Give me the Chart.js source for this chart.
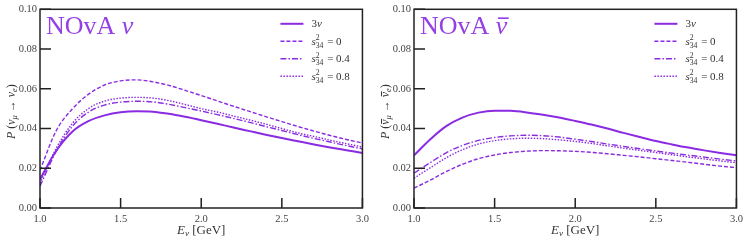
<!DOCTYPE html>
<html>
<head>
  <title>NOvA appearance probability</title>
  <style>
    body { margin: 0; background: #fff; overflow: hidden; }
    .panel { position: absolute; top: 0; width: 374px; height: 242px; }
  </style>
</head>
<body>

<div class="panel" style="left:0"><canvas id="nu" width="374" height="242"></canvas></div>
<div class="panel" style="left:374px"><canvas id="nubar" width="374" height="242"></canvas></div>

<script src="https://cdn.jsdelivr.net/npm/chart.js@4"></script>
<script>

// neutrino energy grid (GeV)
const energies = [1.0, 1.1, 1.2, 1.3, 1.4, 1.5, 1.6, 1.7, 1.8, 1.9, 2.0,
                  2.1, 2.2, 2.3, 2.4, 2.5, 2.6, 2.7, 2.8, 2.9, 3.0];

// NOvA nu
const nuStd = [0.0145, 0.0287, 0.0384, 0.0437, 0.0466, 0.0482, 0.0487, 0.0485, 0.0474, 0.0459, 0.0442,
               0.0424, 0.0405, 0.0387, 0.0369, 0.0352, 0.0336, 0.0320, 0.0305, 0.0291, 0.0277];
const nuS0 = [0.0190, 0.0388, 0.0498, 0.0572, 0.0619, 0.0640, 0.0645, 0.0635, 0.0617, 0.0592, 0.0566,
              0.0539, 0.0512, 0.0486, 0.0460, 0.0435, 0.0410, 0.0387, 0.0365, 0.0345, 0.0327];
const nuS04 = [0.0110, 0.0285, 0.0410, 0.0482, 0.0518, 0.0533, 0.0537, 0.0534, 0.0522, 0.0505, 0.0488,
               0.0470, 0.0451, 0.0431, 0.0410, 0.0390, 0.0369, 0.0350, 0.0332, 0.0314, 0.0298];
const nuS08 = [0.0125, 0.0300, 0.0425, 0.0500, 0.0538, 0.0553, 0.0557, 0.0553, 0.0540, 0.0521, 0.0500,
               0.0483, 0.0463, 0.0443, 0.0422, 0.0400, 0.0378, 0.0360, 0.0341, 0.0324, 0.0307];

// NOvA anti-nu
const nubarStd = [0.0265, 0.0345, 0.0412, 0.0455, 0.0480, 0.0490, 0.0489, 0.0481, 0.0469, 0.0455, 0.0438,
                  0.0420, 0.0400, 0.0378, 0.0357, 0.0337, 0.0320, 0.0304, 0.0290, 0.0277, 0.0265];
const nubarS0 = [0.0100, 0.0140, 0.0183, 0.0220, 0.0248, 0.0267, 0.0279, 0.0286, 0.0289, 0.0288, 0.0285,
                 0.0280, 0.0273, 0.0265, 0.0257, 0.0248, 0.0239, 0.0230, 0.0220, 0.0211, 0.0203];
const nubarS04 = [0.0175, 0.0228, 0.0278, 0.0315, 0.0340, 0.0355, 0.0363, 0.0366, 0.0364, 0.0357, 0.0346,
                  0.0335, 0.0322, 0.0310, 0.0298, 0.0287, 0.0276, 0.0266, 0.0256, 0.0246, 0.0237];
const nubarS08 = [0.0150, 0.0202, 0.0253, 0.0293, 0.0322, 0.0339, 0.0348, 0.0351, 0.0349, 0.0343, 0.0335,
                  0.0325, 0.0313, 0.0301, 0.0290, 0.0279, 0.0268, 0.0257, 0.0247, 0.0237, 0.0228];

const seriesLabels = ['3ν', 's = 0', 's = 0.4', 's = 0.8'];
const xTickValues = [1.0, 1.5, 2.0, 2.5, 3.0];
const yTickValues = [0.00, 0.02, 0.04, 0.06, 0.08, 0.10];

const PURPLE = '#8a2be2';
const SERIF = '"Liberation Serif", "DejaVu Serif", serif';

function font(size, italic) {
  return (italic ? 'italic ' : '') + size + 'px ' + SERIF;
}

// draws a list of text parts with sub/superscripts and overbars
function drawRich(ctx, parts, x, y, size, align, color) {
  const small = size * 0.7;
  const widths = parts.map(p => {
    if (p.stack) {
      ctx.font = font(small, false);
      return Math.max(ctx.measureText(p.stack[0]).width, ctx.measureText(p.stack[1]).width) + 1;
    }
    ctx.font = font(p.s ? small : size, p.i);
    return ctx.measureText(p.t).width;
  });
  const total = widths.reduce((a, b) => a + b, 0);
  let cx = align === 'center' ? x - total / 2 : (align === 'right' ? x - total : x);
  ctx.fillStyle = color;
  ctx.strokeStyle = color;
  ctx.textAlign = 'left';
  ctx.textBaseline = 'alphabetic';
  parts.forEach((p, k) => {
    if (p.stack) {
      ctx.font = font(small, false);
      ctx.fillText(p.stack[0], cx, y - size * 0.4);
      ctx.fillText(p.stack[1], cx, y + size * 0.25);
    } else {
      ctx.font = font(p.s ? small : size, p.i);
      const dy = p.s === 'sub' ? size * 0.18 : 0;
      ctx.fillText(p.t, cx, y + dy);
      if (p.bar) {
        ctx.lineWidth = Math.max(1, size / 16);
        ctx.beginPath();
        ctx.moveTo(cx + size * 0.08, y - size * 0.62);
        ctx.lineTo(cx + widths[k] + size * 0.05, y - size * 0.62);
        ctx.stroke();
      }
    }
    cx += widths[k];
  });
}

function legendParts(k) {
  if (k === 0) return [{t: '3'}, {t: 'ν', i: true}];
  const v = ['0', '0.4', '0.8'][k - 1];
  return [{t: 's', i: true}, {stack: ['2', '34']}, {t: ' = ' + v}];
}

const decor = {
  id: 'decor',
  afterDatasetsDraw(chart, args, opts) {
    const {ctx, chartArea: a, scales: {x, y}} = chart;
    ctx.save();
    // frame and inward ticks
    ctx.strokeStyle = '#222';
    ctx.lineWidth = 1.5;
    ctx.strokeRect(a.left, a.top, a.right - a.left, a.bottom - a.top);
    ctx.beginPath();
    x.ticks.forEach(t => {
      const px = x.getPixelForValue(t.value);
      ctx.moveTo(px, a.bottom);
      ctx.lineTo(px, a.bottom - 10);
    });
    y.ticks.forEach(t => {
      const py = y.getPixelForValue(t.value);
      ctx.moveTo(a.left, py);
      ctx.lineTo(a.left + 11, py);
    });
    ctx.stroke();

    // panel title
    drawRich(ctx, [{t: 'NOvA '}, {t: 'ν', i: true, bar: opts.bar}], a.left + 6, a.top + 25, 26, 'left', '#9440e4');

    // legend
    chart.data.datasets.forEach((ds, k) => {
      const ry = a.top + 14.5 + k * 17.5;
      ctx.strokeStyle = ds.borderColor;
      ctx.lineWidth = ds.borderWidth;
      ctx.setLineDash(ds.borderDash || []);
      ctx.beginPath();
      ctx.moveTo(a.right - 82, ry);
      ctx.lineTo(a.right - 59, ry);
      ctx.stroke();
      ctx.setLineDash([]);
      drawRich(ctx, legendParts(k), a.right - 51, ry + 3.5, 11, 'left', '#333');
    });

    // axis titles
    const mid = (a.left + a.right) / 2;
    drawRich(ctx, [{t: 'E', i: true}, {t: 'ν', i: true, s: 'sub'}, {t: ' [GeV]'}], mid, 234, 13, 'center', '#333');

    ctx.translate(15, (a.top + a.bottom) / 2 + 3);
    ctx.rotate(-Math.PI / 2);
    drawRich(ctx, [
      {t: 'P', i: true}, {t: ' ('},
      {t: 'ν', i: true, bar: opts.bar}, {t: 'μ', i: true, s: 'sub'},
      {t: ' → '},
      {t: 'ν', i: true, bar: opts.bar}, {t: 'e', i: true, s: 'sub'},
      {t: ')'}
    ], 0, 0, 12, 'center', '#333');
    ctx.restore();
  }
};

function line(values, label, dash, width) {
  return {
    label: label,
    data: energies.map((e, k) => ({x: e, y: values[k]})),
    borderColor: PURPLE,
    borderWidth: width,
    borderDash: dash,
    pointRadius: 0,
    fill: false,
    cubicInterpolationMode: 'monotone'
  };
}

function createPanel(canvasId, series, bar, rightPad) {
  const tickFont = {family: SERIF, size: 10.5};
  new Chart(document.getElementById(canvasId), {
    type: 'line',
    data: {
      datasets: [
        line(series[0], seriesLabels[0], [], 2),
        line(series[1], seriesLabels[1], [4, 2], 1.4),
        line(series[2], seriesLabels[2], [6, 2, 1.5, 2], 1.4),
        line(series[3], seriesLabels[3], [1.5, 1.5], 1.4)
      ]
    },
    options: {
      responsive: false,
      animation: false,
      devicePixelRatio: 1,
      layout: {padding: {top: 7, right: rightPad, left: 0, bottom: 0}},
      plugins: {
        legend: {display: false},
        tooltip: {enabled: false},
        decor: {bar: bar}
      },
      scales: {
        x: {
          type: 'linear',
          min: 1, max: 3,
          grid: {display: false, drawTicks: false},
          border: {display: false},
          afterBuildTicks: s => { s.ticks = xTickValues.map(v => ({value: v})); },
          afterFit: s => { s.height = 34; },
          ticks: {font: tickFont, color: '#444', padding: 5, maxRotation: 0,
                  callback: v => v.toFixed(1)}
        },
        y: {
          type: 'linear',
          min: 0, max: 0.1,
          grid: {display: false, drawTicks: false},
          border: {display: false},
          afterBuildTicks: s => { s.ticks = yTickValues.map(v => ({value: v})); },
          afterFit: s => { s.width = 40; },
          ticks: {font: tickFont, color: '#444', padding: 3,
                  callback: v => v.toFixed(2)}
        }
      }
    },
    plugins: [decor]
  });
}

createPanel('nu', [nuStd, nuS0, nuS04, nuS08], false, 10);
createPanel('nubar', [nubarStd, nubarS0, nubarS04, nubarS08], true, 11);

</script>

</body>
</html>
